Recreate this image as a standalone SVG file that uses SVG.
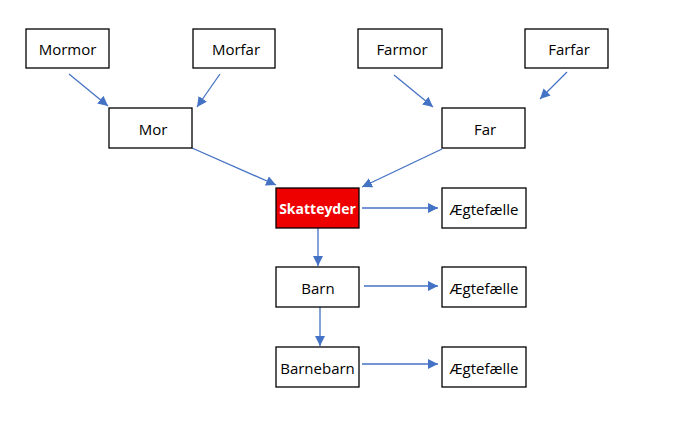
<svg xmlns="http://www.w3.org/2000/svg" width="690" height="422" viewBox="0 0 690 422">
<defs>
<marker id="ah" viewBox="0 0 10 10" refX="10" refY="5" markerWidth="10" markerHeight="10" markerUnits="userSpaceOnUse" orient="auto">
<path d="M0,0 L10,5 L0,10 z" fill="#4472C4"/>
</marker>
<style>
.box{fill:#fff;stroke:#000;stroke-width:1.3}
.red{fill:#EE0000;stroke:#000;stroke-width:1.3}
.t{font-family:"Open Sans","Noto Sans",sans-serif;font-size:15px;fill:#000;text-anchor:middle;dominant-baseline:central}
.tw{font-family:"Open Sans","Noto Sans",sans-serif;font-size:14px;font-weight:bold;fill:#fff;text-anchor:middle;dominant-baseline:central}
.c line{stroke:#4472C4;stroke-width:1.3;marker-end:url(#ah)}
</style>
</defs>
<rect width="690" height="422" fill="#fff"/>
<g class="c" id="connectors">
<line x1="69" y1="74" x2="108" y2="106"/>
<line x1="220" y1="74" x2="197" y2="107"/>
<line x1="192" y1="148" x2="276" y2="185"/>
<line x1="394" y1="75" x2="433" y2="107"/>
<line x1="567" y1="72" x2="540" y2="99"/>
<line x1="442" y1="149" x2="362" y2="187"/>
<line x1="362" y1="208" x2="438" y2="208"/>
<line x1="318" y1="228" x2="318" y2="266"/>
<line x1="364" y1="286" x2="438" y2="286"/>
<line x1="320" y1="307" x2="320" y2="346"/>
<line x1="362" y1="364" x2="438" y2="364"/>
</g>
<g id="mormor"><rect class="box" x="26" y="29" width="83" height="39"/><text class="t" x="67.5" y="49">Mormor</text></g>
<g id="morfar"><rect class="box" x="193" y="29" width="82" height="39"/><text class="t" x="236" y="49">Morfar</text></g>
<g id="farmor"><rect class="box" x="358" y="29" width="84" height="39"/><text class="t" x="402" y="49">Farmor</text></g>
<g id="farfar"><rect class="box" x="525" y="29" width="83" height="39"/><text class="t" x="569" y="49">Farfar</text></g>
<g id="mor"><rect class="box" x="109" y="108" width="83" height="40"/><text class="t" x="153" y="129">Mor</text></g>
<g id="far"><rect class="box" x="442" y="108" width="83" height="40"/><text class="t" x="485" y="129">Far</text></g>
<g id="skatteyder"><rect class="red" x="276" y="188" width="83" height="40"/><text class="tw" x="317.5" y="208">Skatteyder</text></g>
<g id="aegtefaelle1"><rect class="box" x="442" y="188" width="84" height="40"/><text class="t" x="484" y="209">Ægtefælle</text></g>
<g id="barn"><rect class="box" x="276" y="267" width="83" height="40"/><text class="t" x="318" y="288">Barn</text></g>
<g id="aegtefaelle2"><rect class="box" x="442" y="267" width="84" height="40"/><text class="t" x="484" y="288">Ægtefælle</text></g>
<g id="barnebarn"><rect class="box" x="276" y="347" width="83" height="40"/><text class="t" x="317.5" y="368">Barnebarn</text></g>
<g id="aegtefaelle3"><rect class="box" x="442" y="347" width="84" height="40"/><text class="t" x="484" y="368">Ægtefælle</text></g>
</svg>
